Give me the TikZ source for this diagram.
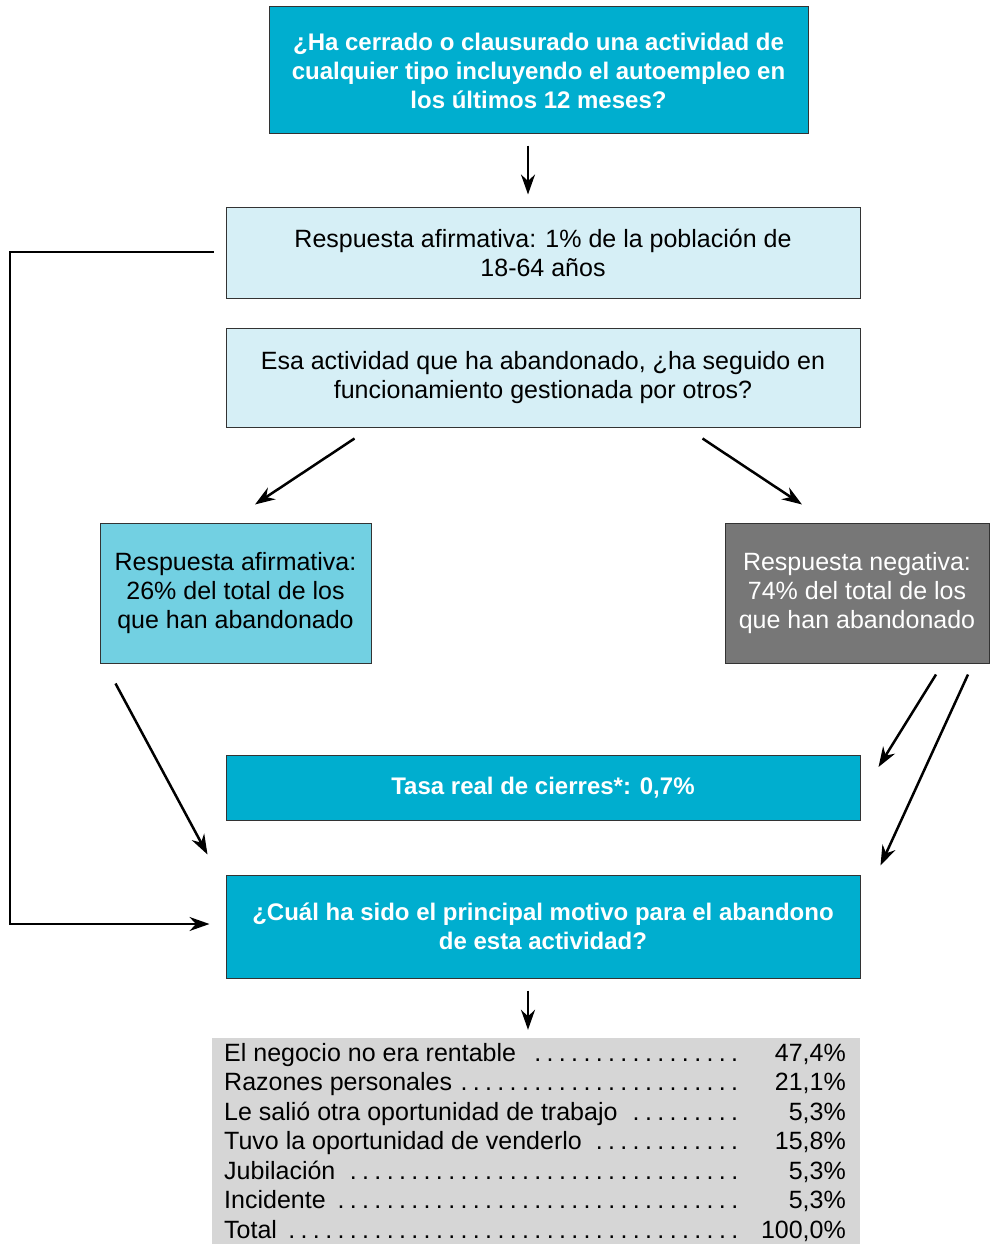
\documentclass[tikz,border=0pt]{standalone}
\usepackage{fontspec}
\setmainfont{Liberation Sans}
\usetikzlibrary{arrows.meta,calc}
\definecolor{cyandark}{RGB}{0,174,207}
\definecolor{cyanlight}{RGB}{214,239,246}
\definecolor{cyanmid}{RGB}{114,208,226}
\definecolor{greybox}{RGB}{119,119,119}
\definecolor{greytab}{RGB}{214,214,214}
\newcommand{\mydots}{\leaders\hbox to 12.3pt{\hss.\hss}\hfill}
\newcommand{\regfont}{\fontsize{25}{29}\selectfont}
\newcommand{\boldfont}{\fontsize{24}{29}\selectfont\bfseries}
\begin{document}
\begin{tikzpicture}[x=1pt,y=-1pt,
  box/.style={draw=black!80, line width=1pt, inner sep=0pt, align=center},
  arr/.style={-{Stealth[length=20pt,width=14pt]}, line width=2.5pt},
  row/.style={inner sep=0pt, font=\regfont}]
\useasboundingbox (0,0) rectangle (989,1244);
% questions and answers:
\node[box, fill=cyandark, text=white, font=\boldfont, minimum width=539pt, minimum height=127pt] (q1) at (538.5,70.5)
  {¿Ha cerrado o clausurado una actividad de\\cualquier tipo incluyendo el autoempleo en\\los últimos 12 meses?};
\node[box, fill=cyanlight, font=\regfont, minimum width=634pt, minimum height=91pt] (r1) at (543,252.5)
  {Respuesta afirmativa: 1\% de la población de\\18-64 años};
\node[box, fill=cyanlight, font=\regfont, minimum width=634pt, minimum height=99pt] (q2) at (543,377.5)
  {Esa actividad que ha abandonado, ¿ha seguido en\\funcionamiento gestionada por otros?};
\node[box, fill=cyanmid, font=\regfont, minimum width=271pt, minimum height=140pt] (si) at (235.5,593)
  {Respuesta afirmativa:\\26\% del total de los\\que han abandonado};
\node[box, fill=greybox, text=white, font=\regfont, minimum width=264pt, minimum height=140pt] (no) at (857,593)
  {Respuesta negativa:\\74\% del total de los\\que han abandonado};
\node[box, fill=cyandark, text=white, font=\boldfont, minimum width=634pt, minimum height=65pt] (tasa) at (543,787.5)
  {Tasa real de cierres*: 0,7\%};
\node[box, fill=cyandark, text=white, font=\boldfont, minimum width=634pt, minimum height=103pt] (q3) at (543,926.5)
  {¿Cuál ha sido el principal motivo para el abandono\\de esta actividad?};
% table of reasons:
\node[fill=greytab, inner sep=0pt, minimum width=648pt, minimum height=206pt] (tab) at (536,1141) {};
\node[row, anchor=base west] (t1) at (224,1061) {\hbox to 517pt{El negocio no era rentable\,\mydots}};
\node[row, anchor=base west] (t2) at (224,1090.5) {\hbox to 517pt{Razones personales\,\mydots}};
\node[row, anchor=base west] (t3) at (224,1120) {\hbox to 517pt{Le salió otra oportunidad de trabajo\,\mydots}};
\node[row, anchor=base west] (t4) at (224,1149.5) {\hbox to 517pt{Tuvo la oportunidad de venderlo\,\mydots}};
\node[row, anchor=base west] (t5) at (224,1179) {\hbox to 517pt{Jubilación\,\mydots}};
\node[row, anchor=base west] (t6) at (224,1208.5) {\hbox to 517pt{Incidente\,\mydots}};
\node[row, anchor=base west] (t7) at (224,1238) {\hbox to 517pt{Total\,\mydots}};
\node[row, anchor=base east] (p1) at (846,1061) {47,4\%};
\node[row, anchor=base east] (p2) at (846,1090.5) {21,1\%};
\node[row, anchor=base east] (p3) at (846,1120) {5,3\%};
\node[row, anchor=base east] (p4) at (846,1149.5) {15,8\%};
\node[row, anchor=base east] (p5) at (846,1179) {5,3\%};
\node[row, anchor=base east] (p6) at (846,1208.5) {5,3\%};
\node[row, anchor=base east] (p7) at (846,1238) {100,0\%};
% arrows:
\draw[arr] ($(q1.south)+(-10.5,11)$) -- ($(r1.north)+(-15,-12)$);
\draw[arr] ($(q2.south west)+(129,11)$) -- ($(si.north)+(19.5,-18)$);
\draw[arr] ($(q2.south east)+(-158,11)$) -- ($(no.north)+(-55,-18)$);
\draw[arr] ($(si.south west)+(16,20)$) -- ($(q3.north west)+(-18,-20)$);
\draw[arr] ($(no.south)+(79,11)$) -- ($(tasa.east)+(18,-20.5)$);
\draw[arr] ($(no.south)+(111,11)$) -- ($(q3.north east)+(20,-9)$);
\coordinate (side) at (10,252);
\draw[arr, line width=2.2pt] ($(r1.west)+(-12,-0.5)$) -- (side) |- ($(q3.west)+(-16,-2.5)$);
\draw[arr] ($(q3.south)+(-15,12)$) -- ($(tab.north)+(-8,-8)$);
\end{tikzpicture}
\end{document}
